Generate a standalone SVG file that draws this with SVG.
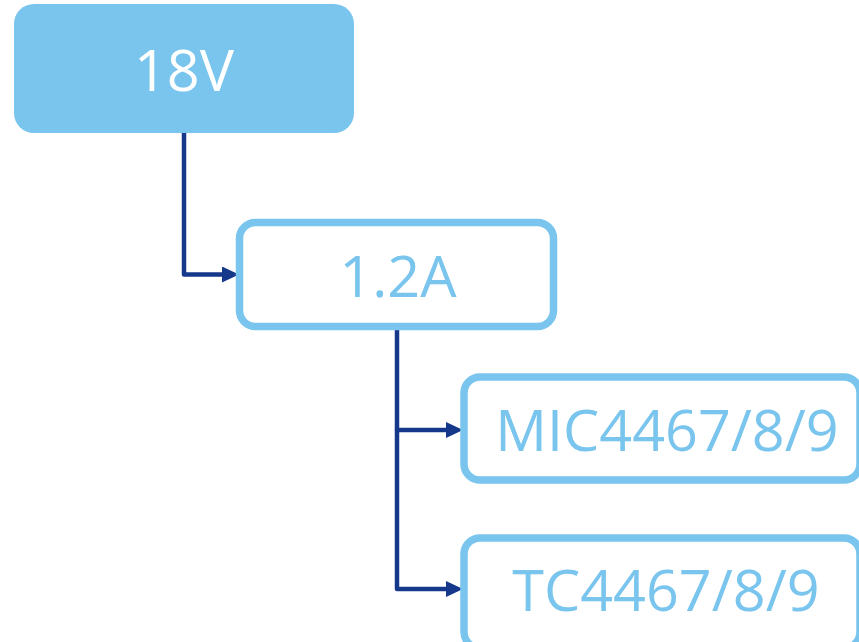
<svg xmlns="http://www.w3.org/2000/svg" width="859" height="642" viewBox="0 0 859 642">
<defs>
<style>
.outline{fill:#ffffff;stroke:#79C5EE;stroke-width:7.5}
.lbl{font-family:"Open Sans","Noto Sans",sans-serif;font-size:57.5px;text-anchor:middle;fill:#79C5EE}
.wire{fill:none;stroke:#15388A;stroke-width:4.5;stroke-linejoin:round;stroke-linecap:round}
</style>
<marker id="ah" viewBox="0 0 17 16" refX="7" refY="8" markerWidth="17" markerHeight="16" markerUnits="userSpaceOnUse" orient="auto">
<path d="M0,0 L17,8 L0,16 z" fill="#15388A"/>
</marker>
</defs>
<rect width="859" height="642" fill="#ffffff"/>
<g id="connectors">
<path class="wire" d="M184,133 V274.5 H229" marker-end="url(#ah)"/>
<path class="wire" d="M397,329 V589 H453" marker-end="url(#ah)"/>
<path class="wire" d="M397,430 H453" marker-end="url(#ah)"/>
</g>
<g id="node-18v">
<rect x="14" y="4" width="340" height="129" rx="20" fill="#79C5EE"/>
<text class="lbl" x="184" y="91" style="fill:#ffffff">18V</text>
</g>
<g id="node-1.2a">
<rect class="outline" x="239.5" y="222.5" width="314" height="104" rx="16"/>
<text class="lbl" x="398" y="297">1.2A</text>
</g>
<g id="node-mic">
<rect class="outline" x="464" y="377" width="396" height="103" rx="16"/>
<text class="lbl" x="667" y="451">MIC4467/8/9</text>
</g>
<g id="node-tc">
<rect class="outline" x="464" y="538" width="396" height="110" rx="16"/>
<text class="lbl" x="666" y="611">TC4467/8/9</text>
</g>
</svg>
